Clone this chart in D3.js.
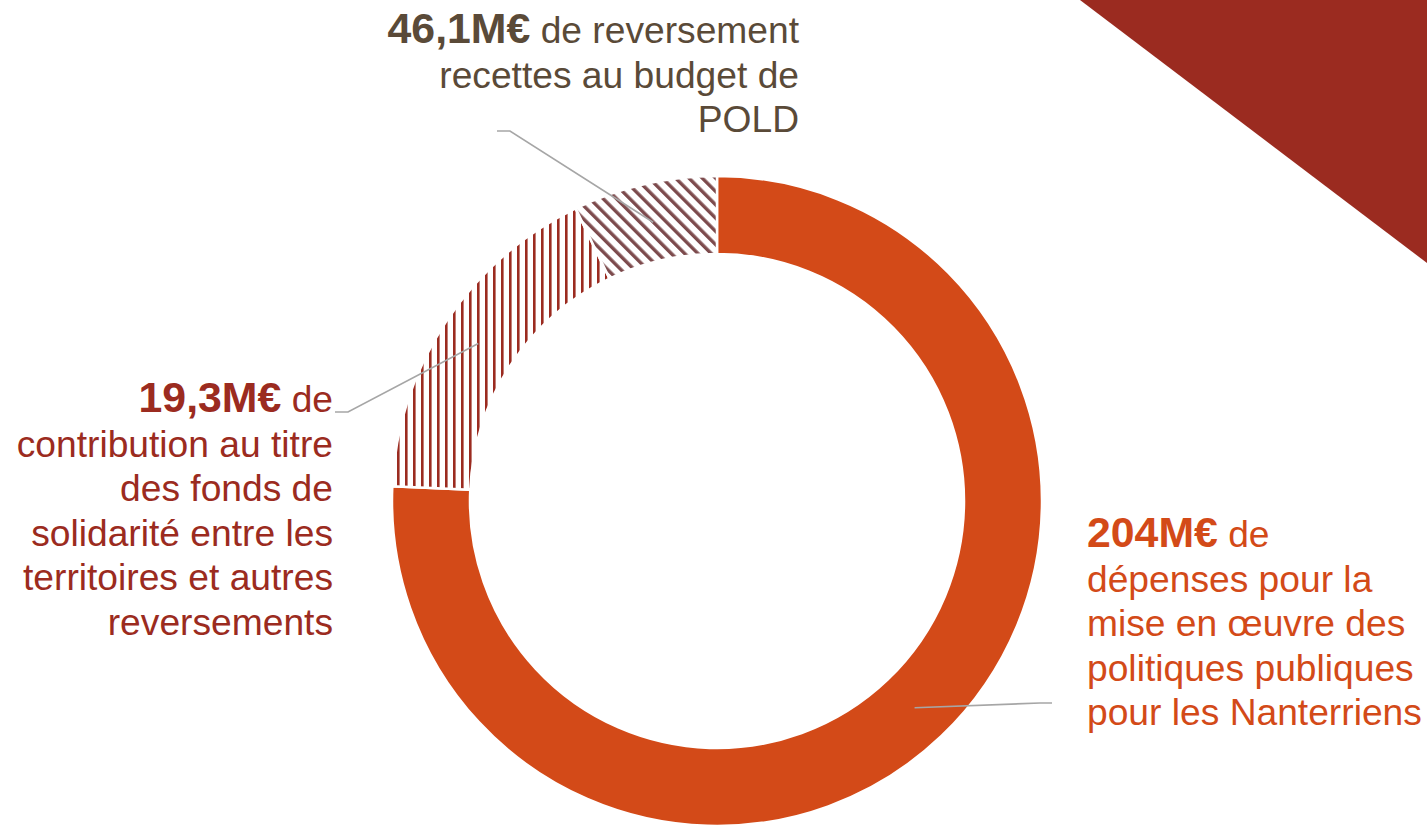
<!DOCTYPE html>
<html>
<head>
<meta charset="utf-8">
<script src="https://cdn.jsdelivr.net/npm/d3@7"></script>
<style>
  body { margin: 0; background: #fff; }
  svg { display: block; }
</style>
</head>
<body>
<div id="root"></div>
<script>
// slices, clockwise from 12 o'clock
var values = [204, 46.1, 19.3];
var fills = ["#D34A18", "url(#hatchV)", "url(#hatchD)"];

// label text: bold figure + remaining words, one array per line
var labelFigures = ["204M€", "19,3M€", "46,1M€"];
var labelLines = [
    [" de", "dépenses pour la", "mise en œuvre des", "politiques publiques", "pour les Nanterriens"],
    [" de", "contribution au titre", "des fonds de", "solidarité entre les", "territoires et autres", "reversements"],
    [" de reversement", "recettes au budget de", "POLD"]
];
var labelColors = ["#D34A18", "#9B2B20", "#5A4A38"];

var svgWidth = 1427,
    svgHeight = 827,
    cx = 717,
    cy = 501,
    outerR = 325,
    innerR = 247;

var svg = d3.select("#root")
    .append("svg")
    .attr("width", svgWidth)
    .attr("height", svgHeight);

var defs = svg.append("defs");

var pv = defs.append("pattern")
    .attr("id", "hatchV")
    .attr("patternUnits", "userSpaceOnUse")
    .attr("width", 8)
    .attr("height", 8);
pv.append("rect").attr("width", 8).attr("height", 8).attr("fill", "#fff");
pv.append("rect").attr("x", 0).attr("width", 2.6).attr("height", 8).attr("fill", "#9B2B20");

var pd = defs.append("pattern")
    .attr("id", "hatchD")
    .attr("patternUnits", "userSpaceOnUse")
    .attr("width", 9.4)
    .attr("height", 9.4)
    .attr("patternTransform", "rotate(-45)");
pd.append("rect").attr("width", 9.4).attr("height", 9.4).attr("fill", "#fff");
pd.append("rect").attr("x", 0).attr("width", 3.4).attr("height", 9.4).attr("fill", "#7D4B4D");

// corner triangle
svg.append("path")
    .attr("d", "M1080,0L" + svgWidth + ",0L" + svgWidth + ",263Z")
    .attr("fill", "#9B2B20");

var pie = d3.pie().sort(null).value(function (d) {
    return d;
});
var arcs = pie(values);

var arc = d3.arc()
    .innerRadius(innerR)
    .outerRadius(outerR);

var g = svg.append("g")
    .attr("transform", "translate(" + cx + "," + cy + ")");

g.selectAll("path")
    .data(arcs)
    .enter()
    .append("path")
    .attr("d", arc)
    .attr("fill", function (d, i) {
        return fills[i];
    })
    .attr("stroke", "#fff")
    .attr("stroke-width", 2.5);

// label blocks: anchor point, alignment, leader elbow
var labelPos = [
    {x: 1087, y: 547, anchor: "start", elbow: [1040, 703], end: [1052, 703]},
    {x: 333, y: 412, anchor: "end", elbow: [348, 412], end: [335, 412]},
    {x: 799, y: 43, anchor: "end", elbow: [510, 131], end: [497, 131]}
];
var lineStep = 44.6;

// leader lines go from each slice centroid to its label
var mid = d3.arc().innerRadius((innerR + outerR) / 2).outerRadius((innerR + outerR) / 2);
// labels 2 and 3 point at the opposite hatched slice, as in the source
var target = [0, 1, 2];

labelPos.forEach(function (p, i) {
    var c = mid.centroid(arcs[target[i]]);
    svg.append("polyline")
        .attr("points", [[cx + c[0], cy + c[1]], p.elbow, p.end].map(function (q) {
            return q.join(",");
        }).join(" "))
        .attr("fill", "none")
        .attr("stroke", "#A6A6A6")
        .attr("stroke-width", 1.6);

    var t = svg.append("text")
        .attr("font-family", "'Liberation Sans', Arial, sans-serif")
        .attr("fill", labelColors[i])
        .attr("text-anchor", p.anchor);

    labelLines[i].forEach(function (line, j) {
        if (j === 0) {
            var ts = t.append("tspan").attr("x", p.x).attr("y", p.y);
            ts.append("tspan")
                .attr("font-weight", "bold")
                .attr("font-size", 42.8)
                .text(labelFigures[i]);
            ts.append("tspan")
                .attr("font-size", 37.2)
                .text(line);
        } else {
            t.append("tspan")
                .attr("x", p.x)
                .attr("y", p.y + j * lineStep)
                .attr("font-size", 37.2)
                .text(line);
        }
    });
});
</script>
</body>
</html>
